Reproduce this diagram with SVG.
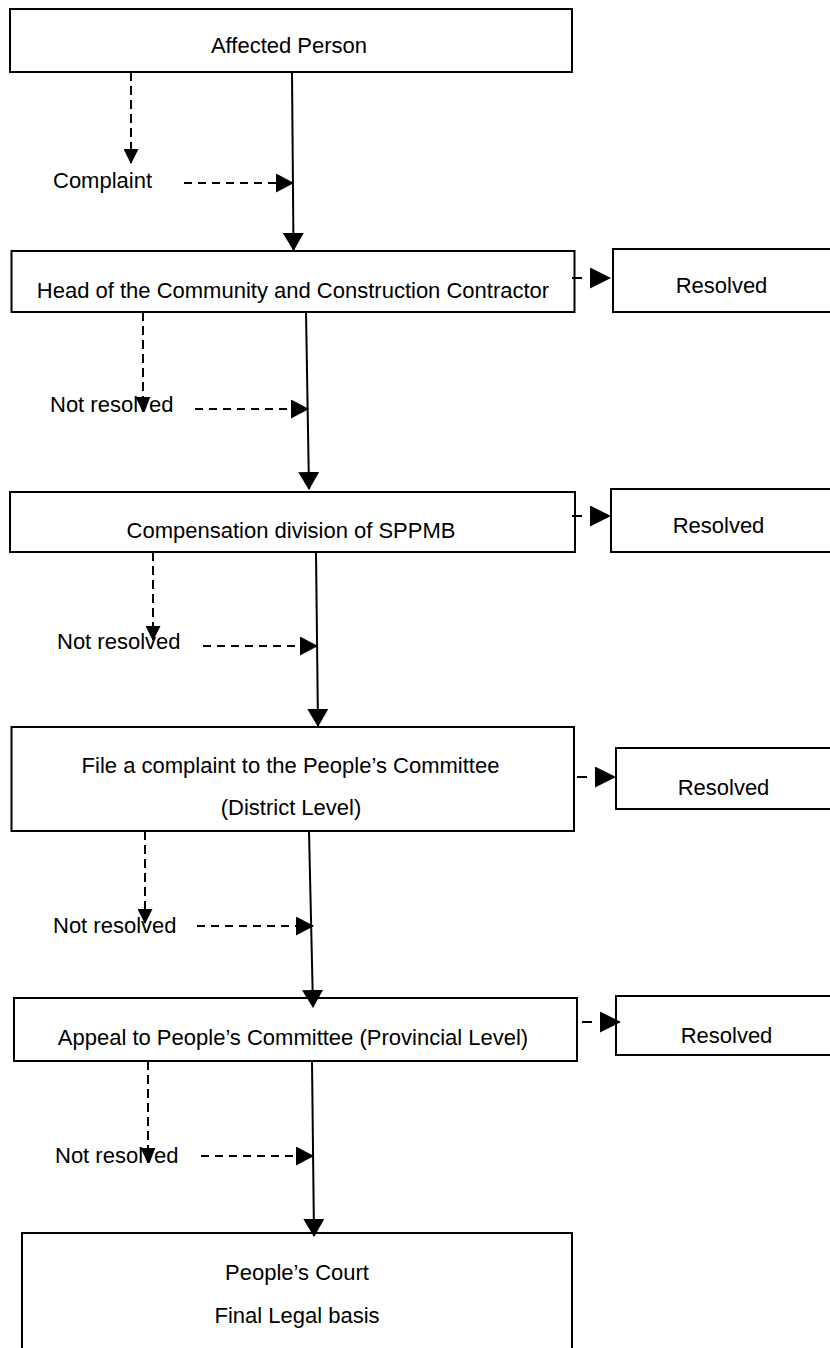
<svg xmlns="http://www.w3.org/2000/svg" width="830" height="1348" viewBox="0 0 830 1348">
  <style>
    .box { fill: #ffffff; stroke: #000000; stroke-width: 2; }
    .lbl { font-family: "Liberation Sans", Arial, sans-serif; font-size: 22px; fill: #000000; }
    .c { text-anchor: middle; }
    .main { stroke: #000000; stroke-width: 2; fill: none; marker-end: url(#arrBig); }
    .dv { stroke: #000000; stroke-width: 2; fill: none; stroke-dasharray: 9 5; marker-end: url(#arrSmall); }
    .dh { stroke: #000000; stroke-width: 2; fill: none; stroke-dasharray: 8 6; marker-end: url(#arrMed); }
    .dr { stroke: #000000; stroke-width: 2; fill: none; stroke-dasharray: 10 60; marker-end: url(#arrRight); }
  </style>
  <defs>
    <marker id="arrBig" viewBox="0 0 18 21" markerWidth="18" markerHeight="21" refX="17" refY="10.5" orient="auto" markerUnits="userSpaceOnUse">
      <path d="M0,0 L18,10.5 L0,21 Z" fill="#000000"/>
    </marker>
    <marker id="arrMed" viewBox="0 0 18 19" markerWidth="18" markerHeight="19" refX="17" refY="9.5" orient="auto" markerUnits="userSpaceOnUse">
      <path d="M0,0 L18,9.5 L0,19 Z" fill="#000000"/>
    </marker>
    <marker id="arrSmall" viewBox="0 0 15 15" markerWidth="15" markerHeight="15" refX="14" refY="7.5" orient="auto" markerUnits="userSpaceOnUse">
      <path d="M0,0 L15,7.5 L0,15 Z" fill="#000000"/>
    </marker>
    <marker id="arrRight" viewBox="0 0 21 21" markerWidth="21" markerHeight="21" refX="20" refY="10.5" orient="auto" markerUnits="userSpaceOnUse">
      <path d="M0,0 L21,10.5 L0,21 Z" fill="#000000"/>
    </marker>
  </defs>

  <rect width="830" height="1348" fill="#ffffff"/>

  <g id="node-affected-person">
    <rect class="box" x="10" y="9" width="562" height="63"/>
    <text class="lbl c" x="289" y="53">Affected Person</text>
  </g>

  <g id="node-head-community">
    <rect class="box" x="11.5" y="251" width="563" height="61"/>
    <text class="lbl c" x="293" y="298">Head of the Community and Construction Contractor</text>
  </g>

  <g id="node-resolved-1">
    <rect class="box" x="613" y="249" width="240" height="63"/>
    <text class="lbl c" x="721.5" y="293">Resolved</text>
  </g>

  <g id="node-compensation">
    <rect class="box" x="10" y="492" width="565" height="60"/>
    <text class="lbl c" x="291" y="538">Compensation division of SPPMB</text>
  </g>

  <g id="node-resolved-2">
    <rect class="box" x="611" y="489" width="240" height="63"/>
    <text class="lbl c" x="718.5" y="533">Resolved</text>
  </g>

  <g id="node-district">
    <rect class="box" x="11.5" y="727" width="562.5" height="104"/>
    <text class="lbl c" x="290.5" y="773">File a complaint to the People’s Committee</text>
    <text class="lbl c" x="291" y="815">(District Level)</text>
  </g>

  <g id="node-resolved-3">
    <rect class="box" x="616" y="748" width="240" height="61"/>
    <text class="lbl c" x="723.5" y="795">Resolved</text>
  </g>

  <g id="node-provincial">
    <rect class="box" x="14" y="998" width="563" height="63"/>
    <text class="lbl c" x="293" y="1045">Appeal to People’s Committee (Provincial Level)</text>
  </g>

  <g id="node-resolved-4">
    <rect class="box" x="616" y="996" width="240" height="59"/>
    <text class="lbl c" x="726.5" y="1043">Resolved</text>
  </g>

  <g id="node-court">
    <rect class="box" x="22" y="1233" width="550" height="140"/>
    <text class="lbl c" x="297" y="1280">People’s Court</text>
    <text class="lbl c" x="297" y="1323">Final Legal basis</text>
  </g>

  <g id="label-complaint">
    <text class="lbl" x="53" y="188">Complaint</text>
  </g>
  <g id="label-not-resolved-1">
    <text class="lbl" x="50" y="412">Not resolved</text>
  </g>
  <g id="label-not-resolved-2">
    <text class="lbl" x="57" y="649">Not resolved</text>
  </g>
  <g id="label-not-resolved-3">
    <text class="lbl" x="53" y="933">Not resolved</text>
  </g>
  <g id="label-not-resolved-4">
    <text class="lbl" x="55" y="1163">Not resolved</text>
  </g>

  <g id="connectors">
    <!-- Affected Person -> Head -->
    <line class="dv" x1="131" y1="72" x2="131" y2="163"/>
    <line class="dh" x1="184" y1="183" x2="293" y2="183"/>
    <line class="main" x1="292" y1="72" x2="293.5" y2="250"/>
    <line class="dr" x1="572" y1="278" x2="610" y2="278"/>
    <!-- Head -> Compensation -->
    <line class="dv" x1="143" y1="312" x2="143" y2="411"/>
    <line class="dh" x1="195" y1="409" x2="308" y2="409"/>
    <line class="main" x1="306" y1="312" x2="309" y2="489"/>
    <line class="dr" x1="572" y1="516" x2="610" y2="516"/>
    <!-- Compensation -> District -->
    <line class="dv" x1="153" y1="552" x2="153" y2="640"/>
    <line class="dh" x1="203" y1="646" x2="317" y2="646"/>
    <line class="main" x1="316" y1="552" x2="318" y2="726"/>
    <line class="dr" x1="577" y1="777" x2="615" y2="777"/>
    <!-- District -> Provincial -->
    <line class="dv" x1="145" y1="831" x2="145" y2="923"/>
    <line class="dh" x1="197" y1="926" x2="313" y2="926"/>
    <line class="main" x1="309" y1="831" x2="313" y2="1007"/>
    <line class="dr" x1="582" y1="1022" x2="620" y2="1022"/>
    <!-- Provincial -> Court -->
    <line class="dv" x1="148" y1="1061" x2="148" y2="1162"/>
    <line class="dh" x1="201" y1="1156" x2="313" y2="1156"/>
    <line class="main" x1="312" y1="1061" x2="314" y2="1236"/>
  </g>
</svg>
